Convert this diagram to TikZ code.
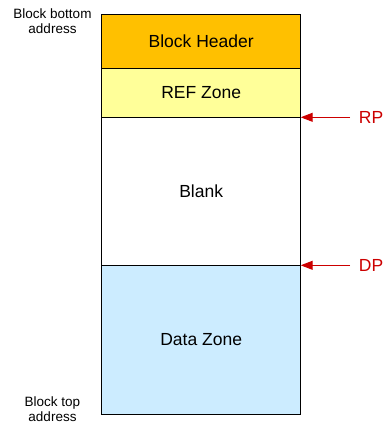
\documentclass[tikz,border=0pt]{standalone}
\usepackage{fontspec}
\setmainfont{Liberation Sans}
\usetikzlibrary{arrows.meta, positioning}
\definecolor{hdrorange}{HTML}{FFC000}
\definecolor{refyellow}{HTML}{FFFF99}
\definecolor{datablue}{HTML}{CCECFF}
\definecolor{ptrred}{HTML}{CC0000}
\tikzset{%
	zone/.style={draw, rectangle, minimum width=199pt, inner sep=0pt, outer sep=0pt,%
		line width=1pt, font=\fontsize{17.5}{20}\selectfont},
	addr/.style={align=center, inner sep=0pt, font=\fontsize{13.5}{15}\selectfont},
	ptr/.style={-{Triangle[length=12pt,width=9pt]}, ptrred, line width=1pt},
	ptrlabel/.style={anchor=west, text=ptrred, inner sep=0pt, font=\fontsize{17.5}{20}\selectfont}
}

\begin{document}
\begin{tikzpicture}[x=1pt, y=-1pt]
  \clip (0,0) rectangle (384,427);
  \node[zone, fill=hdrorange, minimum height=54pt] (header) at (201.2,41.3) {Block Header};
  \node[zone, fill=refyellow, minimum height=49pt, below=0pt of header] (ref) {REF Zone};
  \node[zone, fill=white, minimum height=148pt, below=0pt of ref] (blank) {Blank};
  \node[zone, fill=datablue, minimum height=149pt, below=0pt of blank] (data) {Data Zone};

  \node[addr] (bottomaddr) at (52.5,21.5) {Block bottom\\address};
  \node[addr] (topaddr) at (52.5,409.5) {Block top\\address};

  \coordinate[right=49.5pt of blank.north east] (rp);
  \coordinate[right=49.5pt of data.north east] (dp);
  \draw[ptr] (rp) -- (blank.north east);
  \draw[ptr] (dp) -- (data.north east);
  \node[ptrlabel, right=8.5pt of rp] (rplabel) {RP};
  \node[ptrlabel, right=8.5pt of dp] (dplabel) {DP};
\end{tikzpicture}
\end{document}
